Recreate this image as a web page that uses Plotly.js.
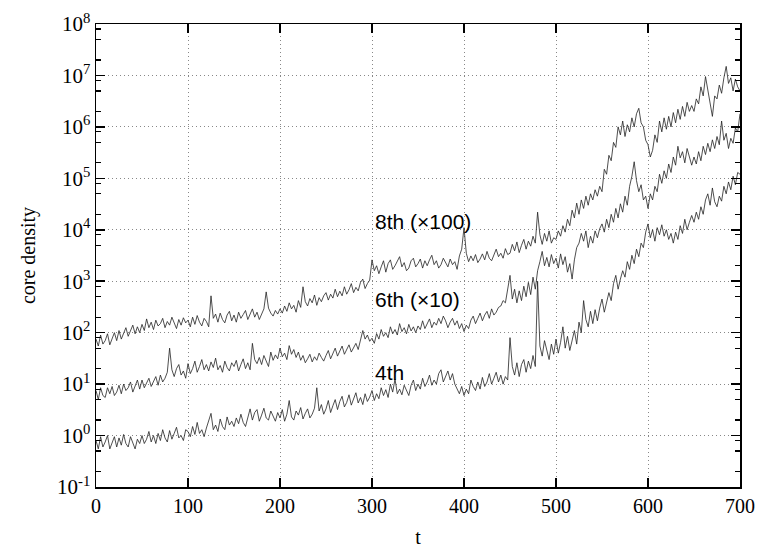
<!DOCTYPE html>
<html>
<head>
<meta charset="utf-8">
<script src="https://cdn.plot.ly/plotly-3.0.1.min.js"></script>
<style>html,body{margin:0;padding:0;background:#fff;}#chart{width:765px;height:552px;}</style>
</head>
<body>
<div id="chart"></div>
<script>
// time samples t = 0, 2.5, 5, ... 700 (sampling grid of the series below)
const tStep = 2.5;

// 4th order core density
const density4th = [
0.8,0.55,0.95,0.6,0.75,1.0,0.55,0.7,0.95,0.6,0.9,0.65,1.05,0.7,0.6,0.95,0.75,0.55,0.85,0.7,
1.0,0.7,0.85,1.2,0.75,1.0,0.7,1.1,0.8,1.3,0.9,0.75,1.25,0.85,1.1,1.45,0.9,1.0,0.8,1.3,
1.2,0.95,1.5,1.05,1.8,1.1,1.3,0.95,1.4,2.0,2.7,1.3,1.6,1.2,2.1,1.5,1.3,2.3,1.6,1.9,
1.5,2.2,1.7,2.6,1.8,1.5,2.4,3.3,2.0,2.8,3.2,1.9,2.5,3.4,2.2,2.0,3.0,2.4,1.9,2.8,
2.2,3.2,1.9,2.6,4.8,2.3,2.0,3.0,2.5,3.5,2.1,2.7,3.3,2.2,2.6,3.4,8.5,3.0,4.0,2.6,
3.3,4.8,2.8,3.8,5.0,3.2,4.6,5.8,3.6,4.4,6.2,3.9,5.0,6.8,4.3,5.5,4.0,6.5,4.6,5.6,
7.5,4.8,6.5,5.2,8.5,6,7.8,5.5,10,7,12.5,6.5,8,6.2,9.5,7.5,6,9.5,12,7.5,
10,8,13,9,11,15,9.5,12,10,16,19,11,14,18,12,16,10,8,6.5,9,
6,8,6.5,12,9,7.5,11,8,13.5,9,11,16,10,13,17,11,15,10,14,12,
80,22,15,26,14,24,30,17,28,20,36,22,1000,55,35,70,45,30,60,38,
75,40,65,130,50,85,45,70,110,60,160,100,420,180,130,260,150,280,170,300,
450,250,380,600,420,900,1300,700,1100,1600,1200,2400,1700,3200,2200,4200,3000,5500,4500,9000,
13000,7000,10000,6000,11000,8000,12500,7500,10000,6500,8500,5500,9000,6500,12000,8500,16000,10000,14000,19000,
14000,22000,16000,28000,20000,38000,50000,30000,65000,35000,28000,45000,36000,70000,50000,85000,60000,110000,75000,130000,
120000];

// 6th order core density (x10)
const density6th = [
7.5,5,8.5,6,5.5,8.5,6.5,9,6,7,9.5,6.5,10,7.5,8.5,11,7,9,12,8,
12,8.5,10.5,13,9,11,14,9.5,15,11,13,17,50,19,14,20,24,15,18,13,
25,16,20,28,17,22,30,19,24,18,27,21,32,19,23,17,28,21,18,26,
22,29,18,24,31,20,26,19,62,30,25,33,24,36,28,22,42,29,37,31,
50,34,40,30,56,38,47,33,42,29,36,26,31,38,27,34,29,40,33,28,
36,45,31,40,50,35,44,55,38,48,58,42,52,62,47,70,110,75,90,68,
78,62,96,75,115,85,100,80,130,95,115,90,150,105,125,95,145,108,130,100,
135,115,170,120,150,185,125,160,140,190,150,210,170,125,160,190,140,170,120,150,
105,140,120,175,210,150,190,240,170,220,260,190,290,220,250,310,330,420,380,700,
1300,450,700,380,650,420,800,500,950,550,1200,700,1600,2400,3800,2000,2900,1900,3300,2200,
2800,1800,3400,2100,3000,1500,2200,1100,2600,4500,5500,8500,6000,9500,4500,7500,5500,9500,7000,10500,
13000,9000,16000,11000,20000,14000,26000,17000,32000,22000,45000,30000,70000,110000,210000,90000,55000,75000,38000,45000,
26000,50000,38000,70000,55000,120000,80000,140000,100000,190000,130000,260000,180000,420000,250000,330000,200000,380000,260000,180000,
260000,190000,330000,220000,420000,290000,480000,330000,560000,380000,650000,450000,1300000,550000,750000,380000,600000,480000,950000,800000,
1800000];

// 8th order core density (x100)
const density8th = [
75,55,90,60,70,95,58,80,100,70,110,75,95,125,85,105,140,95,130,100,
145,110,185,125,160,115,175,135,150,190,125,165,140,200,150,120,180,140,195,155,
175,130,200,145,215,160,135,190,165,130,520,190,230,160,240,180,155,220,260,170,
220,160,250,190,225,270,180,240,290,200,250,180,230,290,620,300,240,210,270,230,
290,240,330,260,380,290,340,250,420,310,780,400,330,460,380,540,340,480,400,520,
600,430,560,470,700,500,640,520,780,560,680,900,600,760,650,950,1100,720,900,1050,
2600,1600,2000,1400,1900,2500,1500,2200,2600,1700,2000,2400,3000,1900,2300,1600,1800,2500,2800,1900,
2200,2700,1800,2500,2000,2600,3200,2100,2500,1800,2100,2800,2300,1900,2700,2100,2400,1700,3100,4200,
11000,3500,2400,3100,2500,3300,2300,2700,3400,2600,3800,2800,2500,3300,4200,3000,3500,2800,4300,3300,
3500,5200,3900,5800,3600,5000,6500,4200,6000,4800,7500,5500,22000,8000,5200,8500,6000,9500,5500,7000,
6500,9500,7500,12000,9000,16000,12000,24000,17000,33000,20000,38000,26000,45000,30000,50000,38000,60000,45000,70000,
55000,150000,120000,280000,220000,500000,400000,1000000,700000,1300000,650000,1100000,800000,1500000,1000000,1800000,2300000,1200000,1000000,550000,
450000,260000,350000,700000,500000,1300000,800000,1500000,900000,1600000,1000000,1900000,1200000,2200000,1400000,2500000,1600000,3000000,2000000,2600000,
2000000,3500000,2800000,6000000,4000000,9500000,5500000,3000000,1600000,4000000,3500000,6500000,4500000,9000000,15000000,7000000,9000000,5000000,8500000,6000000,
5000000];

const seriesLabels = ["4th", "6th (\u00d710)", "8th (\u00d7100)"];
const xTickVals = [0,100,200,300,400,500,600,700];
const xTickLabels = ["0","100","200","300","400","500","600","700"];
const yTickVals = [1e-1,1e0,1e1,1e2,1e3,1e4,1e5,1e6,1e7,1e8];
const yTickLabels = ["10<sup>-1</sup>","10<sup>0</sup>","10<sup>1</sup>","10<sup>2</sup>","10<sup>3</sup>","10<sup>4</sup>","10<sup>5</sup>","10<sup>6</sup>","10<sup>7</sup>","10<sup>8</sup>"];

const tValues = density4th.map((_, i) => i * tStep);

// minor tick positions on the log axis (2, 5, 8 per decade)
const minorTicks = [];
for (let k = -1; k <= 7; k++) { [2,5,8].forEach(m => minorTicks.push(m * Math.pow(10, k))); }

const lineStyle = {color: '#222', width: 0.8};
const traces = [density4th, density6th, density8th].map((d, i) => ({
  x: tValues, y: d, type: 'scatter', mode: 'lines', line: lineStyle,
  name: seriesLabels[i], hoverinfo: 'skip'
}));

const serif = 'Liberation Serif, Times New Roman, serif';
const sans = 'Liberation Sans, Arial, sans-serif';

const layout = {
  width: 765, height: 552,
  margin: {l: 96, r: 25, t: 24, b: 65},
  paper_bgcolor: '#fff', plot_bgcolor: '#fff',
  showlegend: false,
  xaxis: {
    range: [0, 700], tickmode: 'array', tickvals: xTickVals, ticktext: xTickLabels,
    ticks: 'inside', ticklen: 9, tickwidth: 1.5, tickcolor: '#000',
    showline: true, linecolor: '#000', linewidth: 1.5, mirror: 'ticks',
    showgrid: true, gridcolor: '#888', gridwidth: 1, griddash: '1px,3px',
    zeroline: false,
    tickfont: {family: serif, size: 20, color: '#000'},
    title: {text: 't', font: {family: serif, size: 20, color: '#000'}, standoff: 14}
  },
  yaxis: {
    type: 'log', range: [-1, 8], tickmode: 'array', tickvals: yTickVals, ticktext: yTickLabels,
    ticks: 'inside', ticklen: 9, tickwidth: 1.5, tickcolor: '#000',
    showline: true, linecolor: '#000', linewidth: 1.5, mirror: 'ticks',
    showgrid: true, gridcolor: '#888', gridwidth: 1, griddash: '1px,3px',
    zeroline: false,
    minor: {tickmode: 'array', tickvals: minorTicks, ticks: 'inside', ticklen: 5, tickwidth: 1.2, tickcolor: '#000', showgrid: false},
    tickfont: {family: serif, size: 21, color: '#000'},
    title: {text: 'core density', font: {family: serif, size: 20, color: '#000'}, standoff: 16}
  },
  annotations: [
    {x: 301, y: Math.log10(14300), xref: 'x', yref: 'y', text: seriesLabels[2], showarrow: false, xanchor: 'left', yanchor: 'middle', font: {family: sans, size: 21, color: '#000'}},
    {x: 301, y: Math.log10(440), xref: 'x', yref: 'y', text: seriesLabels[1], showarrow: false, xanchor: 'left', yanchor: 'middle', font: {family: sans, size: 21, color: '#000'}},
    {x: 301, y: Math.log10(17), xref: 'x', yref: 'y', text: seriesLabels[0], showarrow: false, xanchor: 'left', yanchor: 'middle', font: {family: sans, size: 21, color: '#000'}}
  ]
};

Plotly.newPlot('chart', traces, layout, {displayModeBar: false, staticPlot: true});
</script>
</body>
</html>
